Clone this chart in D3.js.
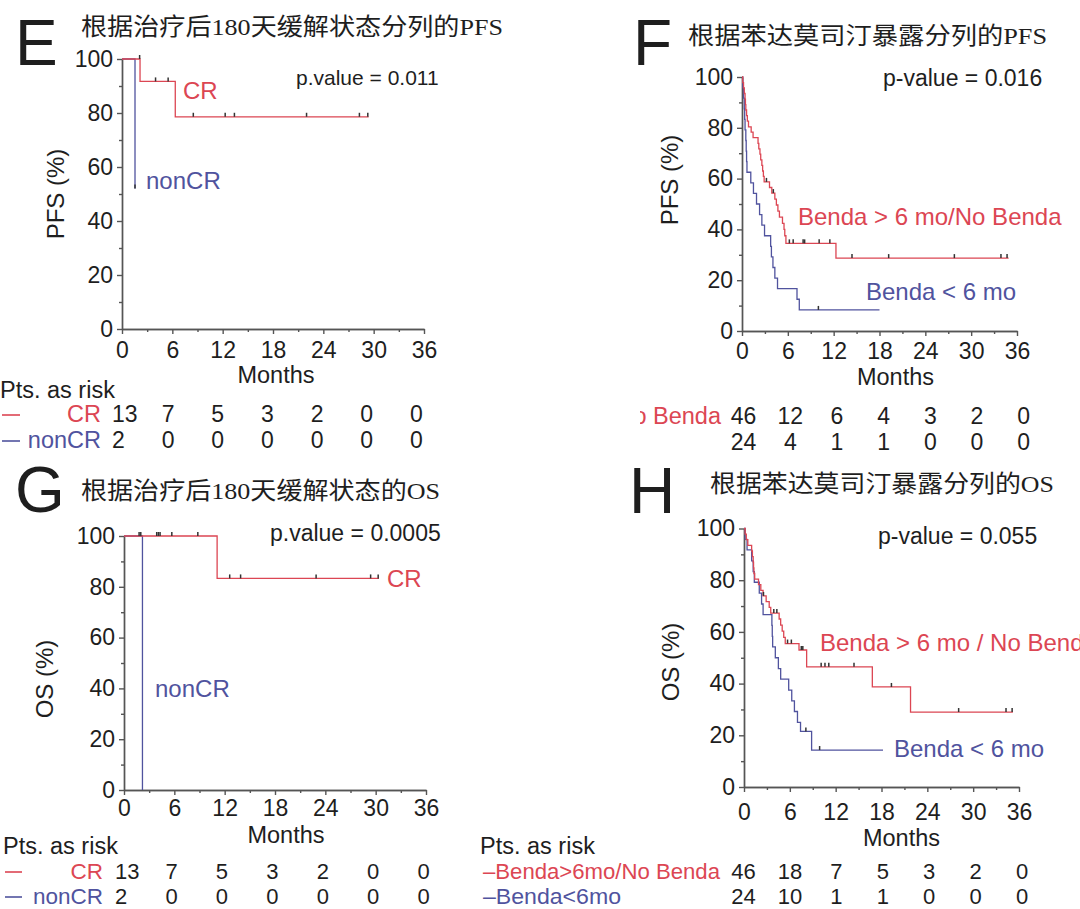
<!DOCTYPE html>
<html><head><meta charset="utf-8">
<script src="https://cdn.jsdelivr.net/npm/d3@7"></script>
<style>html,body{margin:0;padding:0;background:#fff;}svg{display:block;}</style>
</head><body>
<svg id="chart" width="1080" height="909"></svg>
<script>
// ---------- shared axis ticks ----------
const monthTicks = [0, 6, 12, 18, 24, 30, 36];
const minorMonthTicks = [3, 9, 15, 21, 27, 33];
const pctTicks = [0, 20, 40, 60, 80, 100];
const minorPctTicks = [10, 30, 50, 70, 90];

// ---------- Panel E : PFS by remission status at 180 days ----------
const eCRSteps = [[0, 100], [2.15, 91.7], [6.35, 78.6]];
const eCREnd = 29.4;
const eCRCensor = [2.1, 4.0, 5.5, 8.5, 12.3, 13.4, 22.0, 28.3, 29.3];
const eNonCRSteps = [[0, 100], [1.55, 52]];
const eNonCREnd = 1.55;
const eNonCRCensor = [1.55];
const eRiskCR = [13, 7, 5, 3, 2, 0, 0];
const eRiskNonCR = [2, 0, 0, 0, 0, 0, 0];

// ---------- Panel F : PFS by bendamustine exposure ----------
const fHighSteps = [[0, 100], [0.1, 97.8], [0.2, 95.7], [0.3, 93.5], [0.4, 91.3], [0.45, 89.1], [0.5, 87.0],
  [0.6, 84.8], [0.7, 82.6], [0.85, 80.4], [1.2, 78.3], [1.45, 76.1], [2.1, 73.9], [2.2, 71.7], [2.35, 69.6],
  [2.45, 67.4], [2.6, 65.2], [2.7, 63.0], [2.8, 60.9], [2.9, 58.7], [3.6, 56.5], [3.9, 54.3], [4.3, 51.9],
  [4.5, 49.6], [4.7, 47.2], [4.9, 44.8], [5.3, 42.4], [5.5, 40.0], [5.6, 37.5], [5.75, 34.5], [12.3, 28.7]];
const fHighEnd = 34.9;
const fHighCensor = [3.2, 4.1, 6.2, 6.7, 8.0, 8.2, 10.1, 11.5, 14.4, 19.2, 27.8, 33.9, 34.7];
const fLowSteps = [[0, 100], [0.1, 95.8], [0.2, 91.7], [0.3, 87.5], [0.35, 83.3], [0.4, 79.2], [0.5, 75.0],
  [0.55, 70.8], [0.6, 66.7], [0.65, 62.5], [1.15, 58.3], [1.5, 54.2], [1.9, 50.0], [2.3, 45.8], [2.6, 41.7],
  [2.95, 37.5], [3.75, 33.3], [3.85, 29.2], [4.05, 25.0], [4.3, 20.8], [4.65, 16.7], [7.2, 12.5], [7.5, 8.3]];
const fLowEnd = 18.0;
const fLowCensor = [10.0];
const fRiskHigh = [46, 12, 6, 4, 3, 2, 0];
const fRiskLow = [24, 4, 1, 1, 0, 0, 0];

// ---------- Panel G : OS by remission status at 180 days ----------
const gCRSteps = [[0, 100], [11.1, 83.3]];
const gCREnd = 30.4;
const gCRCensor = [1.8, 2.0, 3.9, 4.1, 4.3, 5.7, 8.8, 12.6, 13.9, 22.9, 29.4, 30.3];
const gNonCRSteps = [[0, 100], [2.2, 0]];
const gNonCREnd = 2.2;
const gNonCRCensor = [];
const gRiskCR = [13, 7, 5, 3, 2, 0, 0];
const gRiskNonCR = [2, 0, 0, 0, 0, 0, 0];

// ---------- Panel H : OS by bendamustine exposure ----------
const hHighSteps = [[0, 100], [0.15, 97.8], [0.3, 95.7], [0.5, 93.5], [1.0, 91.3], [1.1, 89.1], [1.2, 87.0],
  [1.25, 84.8], [1.3, 82.6], [1.4, 80.4], [1.9, 78.3], [2.2, 76.1], [2.5, 73.9], [2.9, 71.7], [3.3, 69.5],
  [3.5, 67.3], [4.6, 65.0], [4.8, 62.6], [5.0, 60.3], [5.2, 57.9], [5.4, 55.5], [7.2, 53.0], [8.2, 46.5],
  [16.8, 38.7], [21.8, 29.0]];
const hHighEnd = 35.2;
const hHighCensor = [2.55, 3.9, 4.3, 5.7, 6.2, 7.5, 7.7, 10.1, 10.6, 11.1, 14.4, 19.3, 28.1, 34.3, 35.1];
const hLowSteps = [[0, 100], [0.15, 95.8], [0.4, 91.7], [1.0, 87.5], [1.2, 83.3], [1.35, 79.2], [2.0, 75.0],
  [2.3, 70.8], [2.5, 66.7], [3.65, 62.5], [3.7, 58.3], [3.75, 54.2], [4.1, 50.0], [4.5, 45.8], [4.8, 41.7],
  [5.85, 37.5], [6.25, 33.3], [6.6, 29.2], [7.0, 25.0], [7.4, 21.5], [8.85, 14.3]];
const hLowEnd = 18.2;
const hLowCensor = [8.1, 9.9];
const hRiskHigh = [46, 18, 7, 5, 3, 2, 0];
const hRiskLow = [24, 10, 1, 1, 0, 0, 0];

// ---------- texts ----------
const panelLetters = ["E", "F", "G", "H"];
const panelTitles = ["根据治疗后180天缓解状态分列的PFS", "根据苯达莫司汀暴露分列的PFS",
                     "根据治疗后180天缓解状态的OS", "根据苯达莫司汀暴露分列的OS"];
const pValues = ["p.value = 0.011", "p-value = 0.016", "p.value = 0.0005", "p-value = 0.055"];
const yLabels = ["PFS (%)", "PFS (%)", "OS (%)", "OS (%)"];

const RED = "#dc4653";
const BLUE = "#50539e";
const AX = "#555";
const INK = "#1e1e1e";
const SANS = "'Liberation Sans', Arial, Helvetica, sans-serif";
const TITLEFONT = "'Liberation Serif', 'Noto Sans CJK SC', serif";

const svg = d3.select("#chart");
svg.append("rect").attr("width", 1080).attr("height", 909).attr("fill", "#fff");

function txt(parent, x, y, s, o = {}) {
  const t = parent.append("text").attr("x", x).attr("y", y).text(s)
    .attr("font-family", o.family || SANS)
    .attr("font-size", o.size || 23)
    .attr("fill", o.fill || INK)
    .attr("text-anchor", o.anchor || "start");
  if (o.len) t.attr("textLength", o.len).attr("lengthAdjust", "spacingAndGlyphs");
  return t;
}

function levelAt(steps, t) {
  let v = steps[0][1];
  for (const s of steps) if (s[0] <= t) v = s[1];
  return v;
}

function drawPanel(p) {
  const g = svg.append("g");
  const x = d3.scaleLinear().domain([0, 36]).range([p.x0, p.x1]);
  const y = d3.scaleLinear().domain([0, 100]).range([p.y0, p.y1]);

  const styleAxis = sel => {
    sel.select(".domain").attr("stroke", AX).attr("stroke-width", 1.4);
    sel.selectAll(".tick line").attr("stroke", AX).attr("stroke-width", 1.4);
    sel.selectAll(".tick text").attr("font-family", SANS).attr("font-size", 23).attr("fill", INK);
  };
  // minor ticks
  g.append("g").attr("transform", `translate(0,${p.y0})`)
    .call(d3.axisBottom(x).tickValues(minorMonthTicks).tickSize(3).tickSizeOuter(0).tickFormat(""))
    .call(styleAxis);
  g.append("g").attr("transform", `translate(${p.x0},0)`)
    .call(d3.axisLeft(y).tickValues(minorPctTicks).tickSize(3).tickSizeOuter(0).tickFormat(""))
    .call(styleAxis);
  // major ticks
  g.append("g").attr("transform", `translate(0,${p.y0})`)
    .call(d3.axisBottom(x).tickValues(monthTicks).tickSize(5).tickPadding(p.xPad).tickSizeOuter(0))
    .call(styleAxis);
  g.append("g").attr("transform", `translate(${p.x0},0)`)
    .call(d3.axisLeft(y).tickValues(pctTicks).tickSize(5).tickPadding(4).tickSizeOuter(0))
    .call(styleAxis);

  // axis titles
  txt(g, (p.x0 + p.x1) / 2 + p.monthsDx, p.monthsY, "Months", {size: 23.5, anchor: "middle"});
  txt(g, 0, 0, p.yLabel, {size: 24, anchor: "middle"})
    .attr("transform", `translate(${p.yLabX},${p.yLabY}) rotate(-90)`).attr("dy", "0.35em");

  // curves
  const line = d3.line().x(d => x(d[0])).y(d => y(d[1])).curve(d3.curveStepAfter);
  for (const s of p.series) {
    const pts = s.steps.concat([[s.end, s.steps[s.steps.length - 1][1]]]);
    g.append("path").attr("d", line(pts)).attr("fill", "none")
      .attr("stroke", s.color).attr("stroke-width", 1.3);
  }
  for (const s of p.series) {
    g.selectAll(null).data(s.censor).join("line")
      .attr("x1", d => x(d)).attr("x2", d => x(d))
      .attr("y1", d => y(levelAt(s.steps, d)) - 4)
      .attr("y2", d => y(levelAt(s.steps, d)))
      .attr("stroke", "#333").attr("stroke-width", 1.5);
  }

  // letter, title, p-value, curve labels
  txt(g, p.letterX, p.letterY, p.letter, {size: 64});
  txt(g, p.titleX, p.titleY, p.title, {size: 24, family: TITLEFONT, len: p.titleLen});
  txt(g, p.pX, p.pY, p.pText, {size: p.pSize});
  for (const L of p.labels) txt(g, L.x, L.y, L.text, {size: 24, fill: L.color});

  // at-risk table
  const rx = d3.scalePoint().domain(monthTicks).range(p.riskRange);
  const rg = g.append("g");
  if (p.riskClip) rg.attr("clip-path", `url(#${p.riskClip})`);
  if (p.ptsText) txt(rg, p.ptsX, p.ptsY, "Pts. as risk", {size: 23.5});
  const rs = p.riskSize || 23;
  p.riskRows.forEach(r => {
    if (r.dash) rg.append("line").attr("x1", r.dash[0]).attr("x2", r.dash[1])
      .attr("y1", r.y - 7).attr("y2", r.y - 7).attr("stroke", r.color).attr("stroke-width", 1.6);
    txt(rg, r.labelX, r.y, r.label, {size: rs + 0.5, fill: r.color, anchor: r.labelAnchor, len: r.labelLen});
    monthTicks.forEach((m, i) => {
      txt(rg, rx(m), r.y, String(r.values[i]), {size: rs, anchor: p.riskAnchor});
    });
  });
}

svg.append("defs").append("clipPath").attr("id", "clipF")
  .append("rect").attr("x", 640).attr("y", 395).attr("width", 440).attr("height", 70);

// ---------- panels ----------
drawPanel({
  letter: panelLetters[0], letterX: 15, letterY: 65,
  title: panelTitles[0], titleX: 81, titleY: 35, titleLen: 422,
  pText: pValues[0], pX: 296, pY: 85, pSize: 21,
  yLabel: yLabels[0], yLabX: 56, yLabY: 194,
  x0: 122, x1: 424, y0: 329, y1: 59, xPad: 8, monthsY: 383, monthsDx: 3,
  series: [
    {steps: eNonCRSteps, end: eNonCREnd, censor: eNonCRCensor, color: BLUE},
    {steps: eCRSteps, end: eCREnd, censor: eCRCensor, color: RED}],
  labels: [{x: 183, y: 99, text: "CR", color: RED}, {x: 146, y: 189, text: "nonCR", color: BLUE}],
  ptsText: true, ptsX: 0, ptsY: 398,
  riskRange: [112, 410], riskAnchor: "start",
  riskRows: [
    {y: 422, label: "CR", labelX: 101, labelAnchor: "end", color: RED, dash: [2, 20], values: eRiskCR},
    {y: 448, label: "nonCR", labelX: 101, labelAnchor: "end", color: BLUE, dash: [2, 20], values: eRiskNonCR}]
});

drawPanel({
  letter: panelLetters[1], letterX: 633, letterY: 65,
  title: panelTitles[1], titleX: 688, titleY: 44, titleLen: 359,
  pText: pValues[1], pX: 883, pY: 86, pSize: 23,
  yLabel: yLabels[1], yLabX: 670, yLabY: 180,
  x0: 742, x1: 1017, y0: 331, y1: 77, xPad: 7, monthsY: 385, monthsDx: 16,
  series: [
    {steps: fLowSteps, end: fLowEnd, censor: fLowCensor, color: BLUE},
    {steps: fHighSteps, end: fHighEnd, censor: fHighCensor, color: RED}],
  labels: [{x: 798, y: 225, text: "Benda > 6 mo/No Benda", color: RED},
           {x: 866, y: 300, text: "Benda < 6 mo", color: BLUE}],
  ptsText: false, riskClip: "clipF",
  riskRange: [743.6, 1023.7], riskAnchor: "middle",
  riskRows: [
    {y: 424, label: "Benda>6mo/No Benda", labelX: 721, labelAnchor: "end", color: RED, values: fRiskHigh},
    {y: 450, label: "", labelX: 721, labelAnchor: "end", color: BLUE, values: fRiskLow}]
});

drawPanel({
  letter: panelLetters[2], letterX: 15, letterY: 512,
  title: panelTitles[2], titleX: 81, titleY: 499, titleLen: 359,
  pText: pValues[2], pX: 270, pY: 541, pSize: 23,
  yLabel: yLabels[2], yLabX: 45, yLabY: 679,
  x0: 124, x1: 426, y0: 790, y1: 536, xPad: 5, monthsY: 843, monthsDx: 11,
  series: [
    {steps: gNonCRSteps, end: gNonCREnd, censor: gNonCRCensor, color: BLUE},
    {steps: gCRSteps, end: gCREnd, censor: gCRCensor, color: RED}],
  labels: [{x: 387, y: 587, text: "CR", color: RED}, {x: 155, y: 697, text: "nonCR", color: BLUE}],
  ptsText: true, ptsX: 3, ptsY: 854,
  riskRange: [115, 417.5], riskAnchor: "start", riskSize: 22,
  riskRows: [
    {y: 879, label: "CR", labelX: 103, labelAnchor: "end", color: RED, dash: [5, 22], values: gRiskCR},
    {y: 904, label: "nonCR", labelX: 103, labelAnchor: "end", color: BLUE, dash: [5, 22], values: gRiskNonCR}]
});

drawPanel({
  letter: panelLetters[3], letterX: 629, letterY: 513,
  title: panelTitles[3], titleX: 710, titleY: 492, titleLen: 344,
  pText: pValues[3], pX: 878, pY: 544, pSize: 23,
  yLabel: yLabels[3], yLabX: 671, yLabY: 662,
  x0: 744, x1: 1019, y0: 787, y1: 528.5, xPad: 12, monthsY: 846, monthsDx: 20,
  series: [
    {steps: hLowSteps, end: hLowEnd, censor: hLowCensor, color: BLUE},
    {steps: hHighSteps, end: hHighEnd, censor: hHighCensor, color: RED}],
  labels: [{x: 820, y: 651, text: "Benda > 6 mo / No Benda", color: RED},
           {x: 894, y: 757, text: "Benda < 6 mo", color: BLUE}],
  ptsText: true, ptsX: 480, ptsY: 854,
  riskRange: [743.6, 1022], riskAnchor: "middle", riskSize: 22,
  riskRows: [
    {y: 879, label: "–Benda>6mo/No Benda", labelX: 483, labelAnchor: "start", color: RED, labelLen: 237, values: hRiskHigh},
    {y: 904, label: "–Benda<6mo", labelX: 483, labelAnchor: "start", color: BLUE, labelLen: 138, values: hRiskLow}]
});
</script>
</body></html>
